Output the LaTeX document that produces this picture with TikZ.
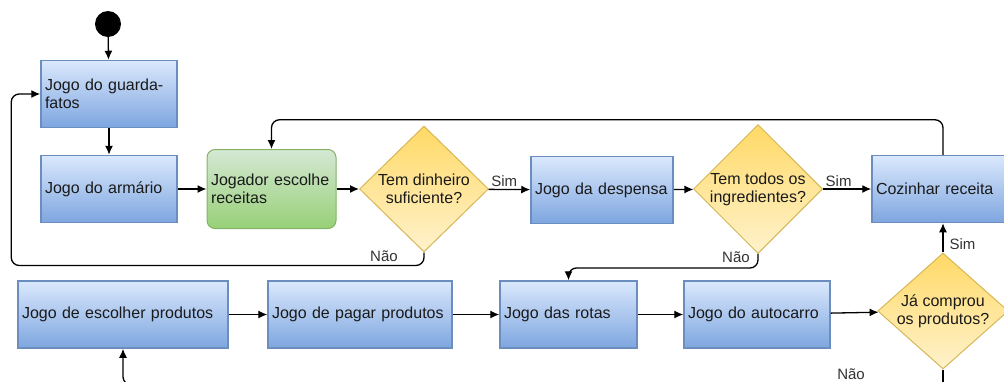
\documentclass[tikz,border=0pt]{standalone}
\usepackage{fontspec}
\setmainfont{Liberation Sans}
\usetikzlibrary{shapes,arrows.meta,calc}
\definecolor{blueTop}{RGB}{218,232,252}
\definecolor{blueBot}{RGB}{126,166,224}
\definecolor{blueLine}{RGB}{108,142,191}
\definecolor{greenTop}{RGB}{213,232,212}
\definecolor{greenBot}{RGB}{151,208,119}
\definecolor{greenLine}{RGB}{130,179,102}
\definecolor{yellowTop}{RGB}{255,217,102}
\definecolor{yellowBot}{RGB}{255,242,204}
\definecolor{yellowLine}{RGB}{214,182,86}
\definecolor{textDark}{RGB}{26,26,26}
\definecolor{labelGray}{RGB}{51,51,51}
\tikzset{
        block/.style = {draw=blueLine, line width=1.5pt, rectangle,
            top color=blueTop, bottom color=blueBot,
            minimum height=67pt, inner sep=4pt,
            align=left, text width=#1, text=textDark},
        greenblock/.style = {draw=greenLine, line width=1pt, rectangle,
            rounded corners=8pt, top color=greenTop, bottom color=greenBot,
            minimum height=79pt, inner sep=4pt,
            align=left, text width=#1, text=textDark},
        choice/.style = {draw=yellowLine, line width=1pt, diamond,
            top color=yellowTop, bottom color=yellowBot,
            inner sep=0pt, align=center, text=textDark},
        startdot/.style = {circle, fill=black, minimum size=26pt, inner sep=0pt},
        arrow/.style = {draw, line width=1.3pt, -{Latex[length=9pt,width=8pt]}},
        lbl/.style = {font=\fontsize{15}{17}\selectfont, text=labelGray, inner sep=2pt},
    }
\begin{document}
\begin{tikzpicture}[x=1pt, y=-1pt, font=\fontsize{16}{18}\selectfont]
    \path[use as bounding box, clip] (0,0) rectangle (1004,381);

    \node[startdot] (start) at (108,24) {};
    \node[block=128pt] (guarda) at ($(start) + (1,70)$) {Jogo do guarda-\\fatos};
    \node[block=128pt] (armario) at ($(guarda) + (0,95)$) {Jogo do arm\'ario};
    \node[greenblock=121pt] (jogador) at ($(armario) + (162.5,0)$) {Jogador escolhe\\receitas};
    \node[choice, minimum width=129pt, minimum height=126pt] (d1) at ($(jogador) + (152.5,0)$) {Tem dinheiro\\suficiente?};
    \node[block=134pt] (despensa) at ($(d1) + (178,1)$) {Jogo da despensa};
    \node[choice, minimum width=129pt, minimum height=126pt] (d2) at ($(despensa) + (156,-1)$) {Tem todos os\\ingredientes?};
    \node[block=134pt] (cozinhar) at ($(d2) + (185,0)$) {Cozinhar receita};

    \node[choice, aspect=1.15, minimum width=128pt, minimum height=116pt] (d3) at ($(cozinhar) + (0,122)$) {J\'a comprou\\os produtos?};
    \node[block=138pt] (autocarro) at ($(d3) + (-186,3.5)$) {Jogo do autocarro};
    \node[block=129pt] (rotas) at ($(autocarro) + (-188.5,0)$) {Jogo das rotas};
    \node[block=176pt] (pagar) at ($(rotas) + (-208.5,0)$) {Jogo de pagar produtos};
    \node[block=202pt] (escolher) at ($(pagar) + (-237,0)$) {Jogo de escolher produtos};

    % fluxo principal
    \draw[arrow] (start) -- (guarda);
    \draw[arrow] (guarda) -- (armario);
    \draw[arrow] (armario) -- (jogador);
    \draw[arrow] (jogador) -- (d1);
    \draw[arrow] (d1) -- node[lbl, above right, pos=0] (sim1) {Sim} (despensa);
    \draw[arrow] (despensa) -- (d2);
    \draw[arrow] (d2) -- node[lbl, above right, pos=0] (sim2) {Sim} (cozinhar);
    \draw[arrow, rounded corners=8pt] (cozinhar.north) -- ++(0,-35) -| (jogador.north);

    % ramos Nao
    \draw[arrow, rounded corners=8pt] (d1.south) -- ++(0,13) -| ($(guarda.west) + (-29,0)$) -- (guarda.west);
    \node[lbl] (nao1) at ($(d1.south) + (-40,4)$) {N\~ao};
    \draw[arrow, rounded corners=8pt] (d2.south) -- ++(0,14) -| (rotas.north);
    \node[lbl] (nao2) at ($(d2.south) + (-22,3)$) {N\~ao};

    % linha de baixo
    \draw[arrow] (escolher) -- (pagar);
    \draw[arrow] (pagar) -- (rotas);
    \draw[arrow] (rotas) -- (autocarro);
    \draw[arrow] (autocarro) -- (d3);
    \draw[arrow] (d3) -- node[lbl, right=4pt, pos=0.3] (sim3) {Sim} (cozinhar);

    \coordinate (d3out) at ($(d3.south) + (0,30)$);
    \draw[line width=1.3pt] (d3.south) -- (d3out);
    \node[lbl] (nao3) at ($(d3.south) + (-92,5)$) {N\~ao};
    \coordinate (escin) at ($(escolher.south) + (30,36)$);
    \draw[arrow, rounded corners=8pt] (escin) -| (escolher.south);
\end{tikzpicture}
\end{document}
